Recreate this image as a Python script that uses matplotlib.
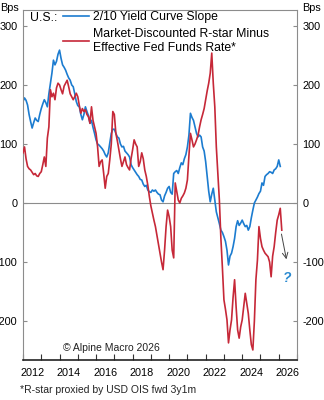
import numpy as np
import matplotlib
matplotlib.use("Agg")
import matplotlib.pyplot as plt

plt.rcParams["font.family"] = ["Liberation Sans", "DejaVu Sans"]
plt.rcParams["axes.unicode_minus"] = False

# monthly readings, first value = Jan 2012
curve_slope = [
    172, 178, 174, 166, 150, 138, 127, 136, 144, 140, 138, 150,  # 2012
    160, 168, 175, 170, 163, 185, 203, 220, 242, 234, 240, 252,  # 2013
    259, 245, 234, 230, 225, 218, 212, 208, 200, 197, 185, 172,  # 2014
    165, 163, 150, 141, 150, 163, 155, 148, 135, 140, 128, 118,  # 2015
    107, 100, 98, 95, 92, 88, 82, 78, 85, 101, 118, 125,  # 2016
    125, 118, 112, 110, 100, 95, 96, 88, 85, 82, 78, 65,  # 2017
    60, 56, 52, 48, 45, 40, 39, 32, 28, 30, 22, 19,  # 2018
    18, 22, 20, 22, 18, 15, 14, 5, 2, 12, 18, 25,  # 2019
    28, 18, 15, 50, 53, 55, 50, 60, 68, 65, 75, 82,  # 2020
    95, 115, 152, 145, 140, 129, 118, 112, 115, 112, 95, 88,  # 2021
    70, 45, 20, 2, 15, 25, 5, -15, -25, -35, -46, -50,  # 2022
    -57, -65, -80, -105, -90, -85, -74, -60, -40, -30, -38, -34,  # 2023
    -29, -35, -40, -38, -46, -40, -25, -12, 0, 5, 10, 16,  # 2024
    20, 34, 30, 45, 48, 50, 53, 52, 50, 56, 58, 62,  # 2025
    73, 62,  # 2026
]

rstar_minus_effr = [
    85, 95, 75, 62, 58, 56, 52, 48, 50, 46, 45, 50,  # 2012
    53, 65, 78, 62, 110, 129, 192, 180, 186, 175, 195, 203,  # 2013
    200, 192, 185, 198, 203, 208, 197, 185, 180, 175, 180, 186,  # 2014
    180, 165, 152, 160, 155, 158, 150, 146, 135, 163, 140, 129,  # 2015
    118, 95, 62, 70, 73, 50, 25, 45, 50, 73, 100, 155,  # 2016
    150, 118, 105, 90, 75, 62, 70, 78, 65, 60, 56, 75,  # 2017
    90, 107, 100, 95, 62, 70, 85, 75, 56, 45, 30, 11,  # 2018
    -5, -17, -29, -40, -55, -70, -85, -100, -113, -80, -40, -12,  # 2019
    -23, -40, -80, -93, 34, 20, 5, 0, 8, 12, 17, 25,  # 2020
    39, 80, 118, 107, 95, 100, 107, 115, 129, 141, 150, 160,  # 2021
    175, 190, 203, 220, 254, 203, 163, 95, 50, 5, -60, -110,  # 2022
    -164, -180, -198, -237, -215, -198, -160, -130, -176, -215, -229, -210,  # 2023
    -198, -175, -153, -170, -187, -215, -240, -249, -200, -130, -97, -40,  # 2024
    -60, -74, -80, -85, -88, -91, -100, -125, -90, -74, -50, -29,  # 2025
    -20, -9, -46,  # 2026
]

yticks = [-200, -100, 0, 100, 200, 300]
year_ticks = list(range(2012, 2028))
year_labels = ["2012", "2014", "2016", "2018", "2020", "2022", "2024", "2026"]

arrow_from = (2026.12, -48)
arrow_to = (2026.45, -100)
question_at = (2026.45, -127)

blue = "#1c7cd0"
red = "#c62838"

t_blue = 2012 + np.arange(len(curve_slope)) / 12
t_red = 2012 + np.arange(len(rstar_minus_effr)) / 12

fig = plt.figure(figsize=(3.24, 4.0), dpi=100)
ax = fig.add_axes([23 / 324, 40 / 400, 274 / 324, 350 / 400])

ax.axhline(0, color="#8c8c8c", lw=0.8, zorder=1)
ax.plot(t_blue, curve_slope, color=blue, lw=1.2, label="2/10 Yield Curve Slope", zorder=2)
ax.plot(t_red, rstar_minus_effr, color=red, lw=1.2,
        label="Market-Discounted R-star Minus\nEffective Fed Funds Rate*", zorder=3)

ax.annotate("", xy=arrow_to, xytext=arrow_from,
            arrowprops=dict(arrowstyle="->", color="#444444", lw=0.7))
ax.text(question_at[0], question_at[1], "?", color="#2a8ad0", fontsize=10,
        fontweight="bold", style="italic", ha="center", va="center")

ax.set_xlim(2012, 2027)
ax.set_ylim(-266, 327)

ax.set_yticks(yticks)
ax.set_yticklabels([str(v) for v in yticks])
ax.tick_params(axis="y", which="both", direction="in", length=3, width=0.8,
               color="#8c8c8c", labelsize=7.8, left=True, right=True,
               labelleft=True, labelright=True, pad=4)

ax.set_xticks(year_ticks)
ax.set_xticklabels([])
ax.set_xticks([int(y) + 0.5 for y in year_labels], minor=True)
ax.set_xticklabels(year_labels, minor=True)
ax.tick_params(axis="x", which="major", direction="in", length=4, width=0.8, color="#333333")
ax.tick_params(axis="x", which="minor", length=0, labelsize=7.8, pad=6)

for side in ["left", "right", "top"]:
    ax.spines[side].set_color("#8c8c8c")
    ax.spines[side].set_linewidth(0.8)
ax.spines["bottom"].set_color("#222222")
ax.spines["bottom"].set_linewidth(1.2)

fig.text(0, 392 / 400, "Bps", fontsize=7.8, ha="left", va="center")
fig.text(302 / 324, 392 / 400, "Bps", fontsize=7.8, ha="left", va="center")

fig.text(30 / 324, 382 / 400, "U.S.:", fontsize=8.8, ha="left", va="center")
ax.legend(loc="upper left", bbox_to_anchor=(63 / 324, 389 / 400),
          bbox_transform=fig.transFigure, frameon=False, fontsize=8.8,
          handlelength=2.1, handletextpad=0.35, borderpad=0, borderaxespad=0,
          labelspacing=0.4)

ax.text(40 / 274, 12 / 350, "\u00a9 Alpine Macro 2026", transform=ax.transAxes,
        fontsize=7.5, ha="left", va="center", color="#222222")
fig.text(20 / 324, 10 / 400, "*R-star proxied by USD OIS fwd 3y1m", fontsize=7.5,
         ha="left", va="center", color="#222222")

fig.savefig("out.png", dpi=100)
